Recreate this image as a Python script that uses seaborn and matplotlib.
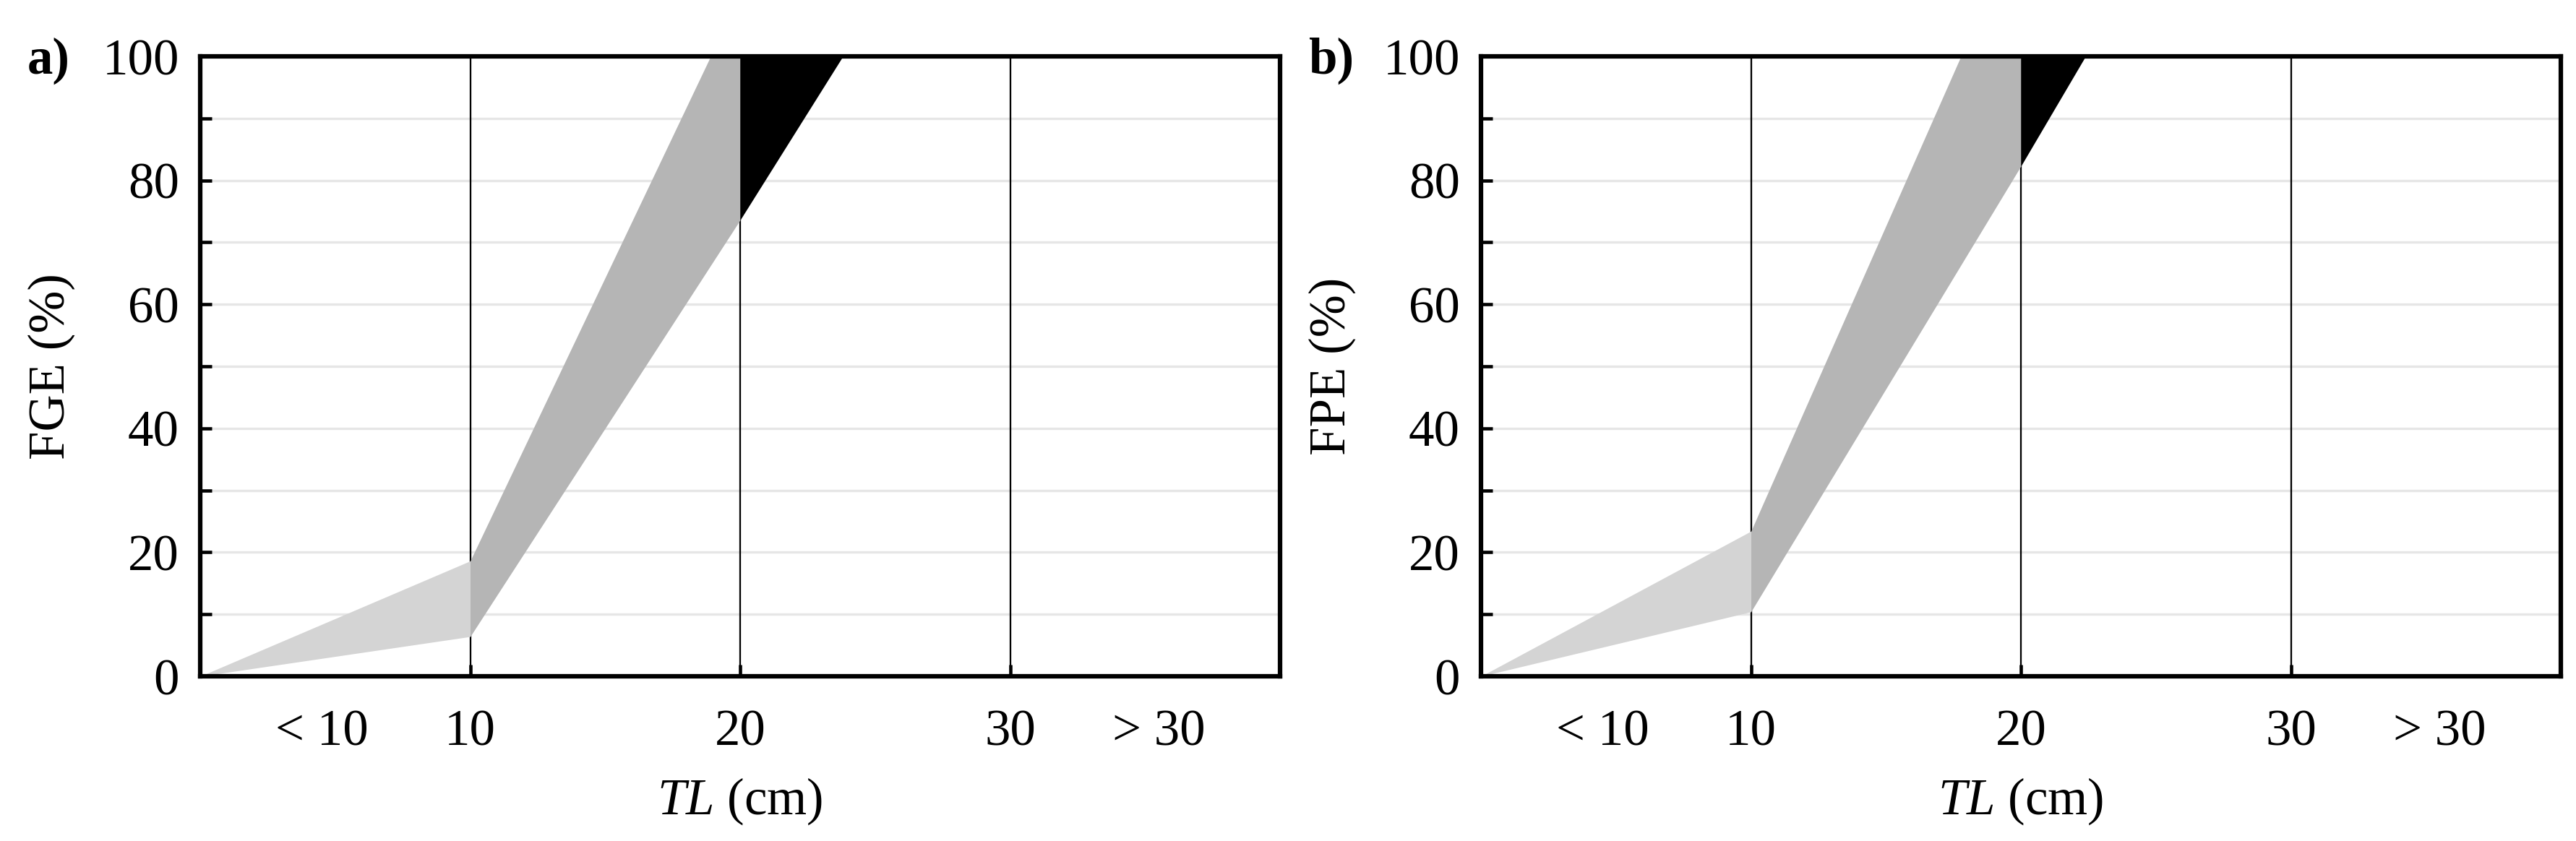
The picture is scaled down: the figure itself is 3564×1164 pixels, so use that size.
import matplotlib
matplotlib.use("Agg")
import matplotlib.pyplot as plt
import seaborn as sns
import numpy as np

# ---- data ----
tl_x = [0, 10, 20, 25]
fge_lower = [0, 6.4, 73.6, 108.3]
fge_upper = [0, 18.6, 110.0, 156.0]
fpe_lower = [0, 10.4, 82.3, 119.3]
fpe_upper = [0, 23.4, 121.9, 171.0]
panel_tags = ["a)", "b)"]
y_labels = ["FGE (%)", "FPE (%)"]
x_major = [10, 20, 30]
x_major_labels = ["10", "20", "30"]
x_minor = [4.5, 35.5]
x_minor_labels = ["< 10", "> 30"]
class_colors = ["#d4d4d4", "#b5b5b5", "#000000"]
class_ranges = [(0, 10), (10, 20), (20, 25)]

sns.set_theme(style="white")
plt.rcParams["font.family"] = ["Liberation Serif", "DejaVu Serif"]
plt.rcParams["mathtext.fontset"] = "custom"
plt.rcParams["mathtext.rm"] = "Liberation Serif"
plt.rcParams["mathtext.it"] = "Liberation Serif:italic"
plt.rcParams.update({
    "xtick.bottom": True, "ytick.left": True,
    "xtick.direction": "in", "ytick.direction": "in",
    "xtick.color": "black", "ytick.color": "black",
    "xtick.labelcolor": "black", "ytick.labelcolor": "black",
    "ytick.major.size": 3.9, "ytick.minor.size": 3.9,
    "ytick.major.width": 1.1, "ytick.minor.width": 1.1,
    "xtick.major.size": 3.9, "xtick.major.width": 1.1,
    "xtick.minor.size": 0,
    "text.color": "black", "axes.labelcolor": "black",
})

W, H = 3564, 1164
dpi = 300
fig = plt.figure(figsize=(W / dpi, H / dpi), dpi=dpi)

ax_l = [277, 2049]
ax_w = 1494
ax_top, ax_bot = 78, 936
fs = 17

series = [(fge_lower, fge_upper), (fpe_lower, fpe_upper)]
for i in range(2):
    ax = fig.add_axes([ax_l[i] / W, (H - ax_bot) / H, ax_w / W, (ax_bot - ax_top) / H])
    lo, up = series[i]
    x = np.array(tl_x, dtype=float)
    lo = np.array(lo); up = np.array(up)
    for yv in range(10, 100, 10):
        ax.axhline(yv, color="#e6e6e6", lw=0.8, zorder=0.5)
    for v in x_major:
        ax.axvline(v, color="black", lw=0.55, zorder=1)
    for (a, b), c in zip(class_ranges, class_colors):
        m = (x >= a) & (x <= b)
        ax.fill_between(x[m], lo[m], up[m], color=c, lw=0, zorder=1.5)
    ax.set_xlim(0, 40)
    ax.set_ylim(0, 100)
    ax.set_yticks(np.arange(0, 101, 20))
    ax.set_yticks(np.arange(10, 100, 20), minor=True)
    ax.set_yticklabels([str(v) for v in range(0, 101, 20)])
    ax.set_xticks(x_major, labels=x_major_labels)
    ax.set_xticks(x_minor, labels=x_minor_labels, minor=True)
    ax.tick_params(axis="y", which="major", labelsize=fs, pad=7)
    ax.tick_params(axis="x", which="both", labelsize=fs, pad=11)
    for s in ax.spines.values():
        s.set_visible(True)
        s.set_color("black")
        s.set_linewidth(1.5)
    ax.set_ylabel(y_labels[i], fontsize=fs)
    ax.yaxis.set_label_coords(-0.116, 0.5)
    ax.text(0.5, -0.2016, r"$\mathit{TL}$ (cm)", transform=ax.transAxes,
            ha="center", va="center", fontsize=fs)
    fig.text((ax_l[i] - 239) / W, 1 - 84 / H, panel_tags[i], fontsize=fs,
             fontweight="bold", ha="left", va="center")

fig.savefig("out.png", dpi=dpi)
